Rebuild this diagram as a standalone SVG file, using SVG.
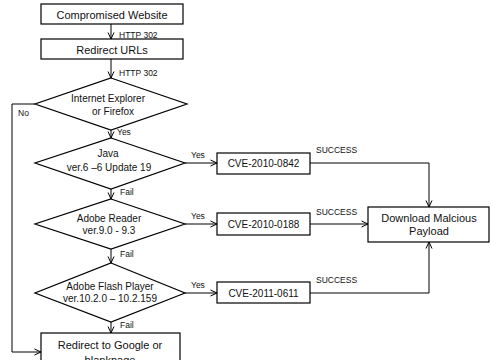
<svg xmlns="http://www.w3.org/2000/svg" width="491" height="360" viewBox="0 0 491 360">
<defs>
<marker id="arr" viewBox="0 0 8 8" refX="7.5" refY="4" markerWidth="8" markerHeight="8" markerUnits="userSpaceOnUse" orient="auto">
<polyline points="1,1 7.5,4 1,7" fill="none" stroke="#000" stroke-width="1"/>
</marker>
<style>
.box{fill:#fff;stroke:#000;stroke-width:1.2}
.t{font-family:"Liberation Sans",Arial,sans-serif;fill:#111;text-anchor:middle}
.b{font-size:11px}
.d{font-size:10px}
.s{font-family:"Liberation Sans",Arial,sans-serif;fill:#111;font-size:8.5px}
.c{fill:none;stroke:#000;stroke-width:1}
</style>
</defs>
<rect width="491" height="360" fill="#fff"/>
<g id="connectors">
<path class="c" d="M111,24 V39" marker-end="url(#arr)"/>
<path class="c" d="M111,59 V78" marker-end="url(#arr)"/>
<path class="c" d="M111,130 V138" marker-end="url(#arr)"/>
<path class="c" d="M111,189 V199" marker-end="url(#arr)"/>
<path class="c" d="M111,249 V263" marker-end="url(#arr)"/>
<path class="c" d="M111,322 V333" marker-end="url(#arr)"/>
<path class="c" d="M35,104 H12 V352 H41" marker-end="url(#arr)"/>
<path class="c" d="M185,163 H217" marker-end="url(#arr)"/>
<path class="c" d="M185,224 H217" marker-end="url(#arr)"/>
<path class="c" d="M185,293 H217" marker-end="url(#arr)"/>
<path class="c" d="M310,163 H429 V207" marker-end="url(#arr)"/>
<path class="c" d="M310,224 H368" marker-end="url(#arr)"/>
<path class="c" d="M310,293 H429 V242" marker-end="url(#arr)"/>
<text class="s" x="119" y="38">HTTP 302</text>
<text class="s" x="119" y="76">HTTP 302</text>
<text class="s" x="18" y="116">No</text>
<text class="s" x="117" y="135">Yes</text>
<text class="s" x="120" y="195">Fail</text>
<text class="s" x="120" y="257">Fail</text>
<text class="s" x="120" y="328">Fail</text>
<text class="s" x="191" y="158">Yes</text>
<text class="s" x="191" y="219">Yes</text>
<text class="s" x="191" y="288">Yes</text>
<text class="s" x="316" y="153">SUCCESS</text>
<text class="s" x="316" y="215">SUCCESS</text>
<text class="s" x="316" y="283">SUCCESS</text>
</g>
<g id="compromised">
<rect class="box" x="41" y="4" width="142" height="20"/>
<text class="t b" x="112" y="18.5">Compromised Website</text>
</g>
<g id="redirect-urls">
<rect class="box" x="41" y="39" width="142" height="20"/>
<text class="t b" x="112" y="54">Redirect URLs</text>
</g>
<g id="browser">
<polygon class="box" points="111,78 187,104 111,130 35,104"/>
<text class="t d" x="108" y="101.5">Internet Explorer</text>
<text class="t d" x="113" y="115">or Firefox</text>
</g>
<g id="java">
<polygon class="box" points="111,138 185,163 111,189 35,163"/>
<text class="t d" x="108" y="156.5">Java</text>
<text class="t d" x="109" y="171">ver.6 –6 Update 19</text>
</g>
<g id="reader">
<polygon class="box" points="111,199 185,224 111,249 35,224"/>
<text class="t d" x="109" y="221.5">Adobe Reader</text>
<text class="t d" x="109" y="233.5">ver.9.0 - 9.3</text>
</g>
<g id="flash">
<polygon class="box" points="111,263 185,293 111,322 35,293"/>
<text class="t d" x="110" y="289.5">Adobe Flash Player</text>
<text class="t d" x="110" y="302">ver.10.2.0 – 10.2.159</text>
</g>
<g id="redirect-google">
<rect class="box" x="41" y="333" width="139" height="40"/>
<text class="t b" x="110" y="349">Redirect to Google or</text>
<text class="t b" x="110" y="364">blankpage</text>
</g>
<g id="cve-0842">
<rect class="box" x="217" y="153" width="93" height="21"/>
<text class="t d" x="263.5" y="167">CVE-2010-0842</text>
</g>
<g id="cve-0188">
<rect class="box" x="217" y="213" width="93" height="22"/>
<text class="t d" x="263.5" y="228">CVE-2010-0188</text>
</g>
<g id="cve-0611">
<rect class="box" x="217" y="282" width="93" height="21"/>
<text class="t d" x="263.5" y="296.5">CVE-2011-0611</text>
</g>
<g id="download">
<rect class="box" x="368" y="207" width="121" height="35"/>
<text class="t b" x="429" y="221.5">Download Malcious</text>
<text class="t b" x="429" y="235">Payload</text>
</g>
</svg>
